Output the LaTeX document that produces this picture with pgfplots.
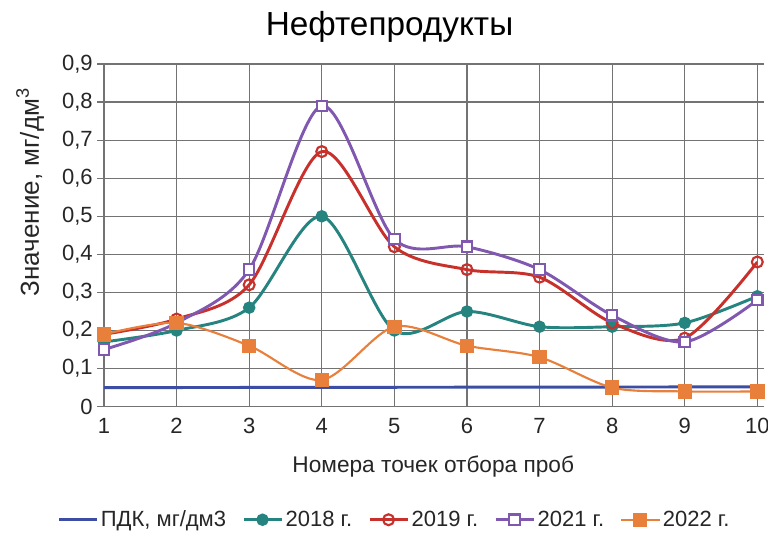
\documentclass[border=0pt]{standalone}
\usepackage{pgfplots}
\pgfplotsset{compat=1.18}
\usepackage{fontspec}
\setmainfont{Liberation Sans}

\definecolor{pdk}{RGB}{59,78,163}
\definecolor{c18}{RGB}{38,132,128}
\definecolor{c19}{RGB}{200,48,44}
\definecolor{c21}{RGB}{128,88,176}
\definecolor{c22}{RGB}{232,128,60}
\definecolor{gridc}{RGB}{115,115,115}

\begin{document}
\begin{tikzpicture}
\useasboundingbox (0,0) rectangle (576pt,401pt);
\begin{axis}[
	at={(78pt,96pt)}, anchor=south west,
	scale only axis,
	width=490pt, height=257pt,
	xmin=1, xmax=10,
	ymin=0, ymax=0.9,
	xtick={1,...,10},
	ytick={0,0.1,...,0.9},
	/pgf/number format/assume math mode=true,
	/pgf/number format/use comma,
	/pgf/number format/fixed,
	yticklabel style={/pgf/number format/precision=1},
	ticklabel style={font=\fontsize{16.5}{18}\selectfont, text=black!85},
	grid=major,
	grid style={gridc, line width=0.9pt},
	axis line style={gridc, line width=0.9pt},
	tick style={gridc, line width=0.9pt},
	major tick length=5pt,
	tick align=outside,
	xtick style={draw=none},
	title={Нефтепродукты},
	title style={font=\fontsize{25}{28}\selectfont, at={(0.437,1.085)}, anchor=center},
	xlabel={Номера точек отбора проб},
	ylabel={Значение, мг/дм\textsuperscript{3}},
	xlabel style={font=\fontsize{17}{19}\selectfont, text=black!85, at={(0.504,-0.175)}, anchor=center},
	ylabel style={font=\fontsize{19.5}{22}\selectfont, text=black!85, at={(-0.113,0.626)}, anchor=center},
	legend style={draw=none, at={(0.445,-0.33)}, anchor=center,
		font=\fontsize{16.5}{18}\selectfont, text=black!85,
		/tikz/every even column/.append style={column sep=10pt}},
	legend columns=5,
	legend image code/.code={\draw[mark repeat=2, mark phase=2, smooth=false]
		plot coordinates {(0cm,0cm) (0.5cm,0cm) (1cm,0cm)};},
	every axis plot/.append style={line width=2.2pt, smooth, tension=0.5},
]
\addplot[pdk, no marks, smooth=false] coordinates {(1,0.05) (10,0.052)};
\addlegendentry{ПДК, мг/дм3}
\addplot[c18, mark=*, mark size=4.2pt, mark options={fill=c18, line width=1pt}] coordinates {
(1,0.17) (2,0.20) (3,0.26) (4,0.50) (5,0.20) (6,0.25) (7,0.21) (8,0.21) (9,0.22) (10,0.29)};
\addlegendentry{2018 г.}
\addplot[c19, mark=o, mark size=4.1pt, mark options={fill=white, line width=1.6pt}] coordinates {
(1,0.19) (2,0.23) (3,0.32) (4,0.67) (5,0.42) (6,0.36) (7,0.34) (8,0.22) (9,0.18) (10,0.38)};
\addlegendentry{2019 г.}
\addplot[c21, mark=square*, mark size=3.9pt, mark options={fill=white, line width=1.6pt}] coordinates {
(1,0.15) (2,0.22) (3,0.36) (4,0.79) (5,0.44) (6,0.42) (7,0.36) (8,0.24) (9,0.17) (10,0.28)};
\addlegendentry{2021 г.}
\addplot[c22, line width=1.6pt, mark=square*, mark size=4.6pt, mark options={fill=c22}] coordinates {
(1,0.19) (2,0.22) (3,0.16) (4,0.07) (5,0.21) (6,0.16) (7,0.13) (8,0.05) (9,0.04) (10,0.04)};
\addlegendentry{2022 г.}
\end{axis}
\end{tikzpicture}
\end{document}
